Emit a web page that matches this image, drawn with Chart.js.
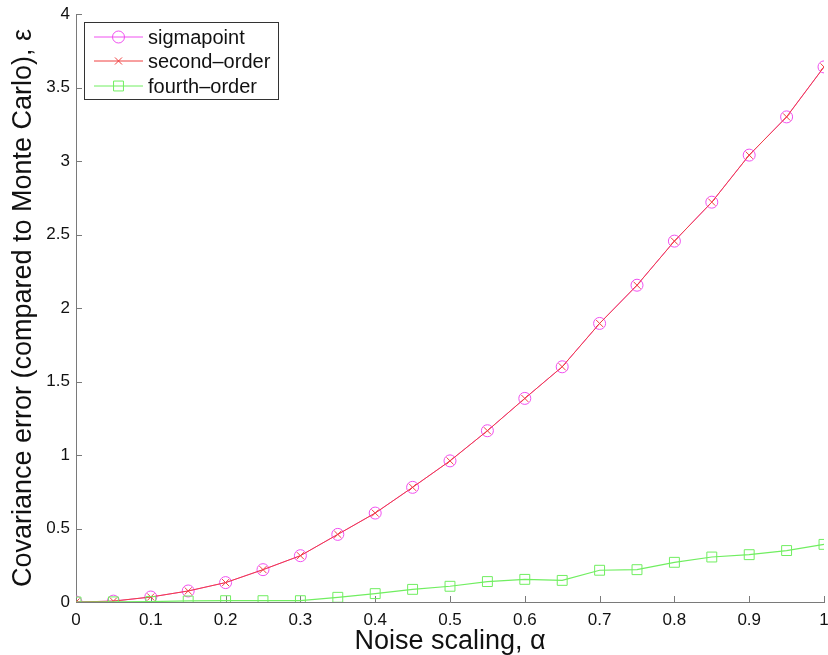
<!DOCTYPE html>
<html>
<head>
<meta charset="utf-8">
<script src="https://cdn.jsdelivr.net/npm/chart.js@4/dist/chart.umd.min.js"></script>
<style>
  html, body { margin: 0; padding: 0; background: #fff; }
  #wrap { width: 828px; height: 655px; }
</style>
</head>
<body>
<div id="wrap"><canvas id="errChart" width="828" height="655"></canvas></div>
<script>
// Data
const alphas = [0, 0.05, 0.1, 0.15, 0.2, 0.25, 0.3, 0.35, 0.4, 0.45, 0.5,
                0.55, 0.6, 0.65, 0.7, 0.75, 0.8, 0.85, 0.9, 0.95, 1];
const sigmapoint = [0, 0.006, 0.034, 0.075, 0.132, 0.22, 0.315, 0.46, 0.605, 0.78, 0.96,
                    1.165, 1.385, 1.60, 1.895, 2.155, 2.455, 2.72, 3.04, 3.30, 3.64];
const secondOrder = [0, 0.006, 0.034, 0.075, 0.132, 0.22, 0.315, 0.46, 0.605, 0.78, 0.96,
                     1.165, 1.385, 1.60, 1.895, 2.155, 2.455, 2.72, 3.04, 3.30, 3.64];
const fourthOrder = [0, 0.001, 0.003, 0.007, 0.009, 0.009, 0.009, 0.032, 0.057, 0.086, 0.107,
                     0.139, 0.154, 0.147, 0.216, 0.22, 0.27, 0.306, 0.322, 0.35, 0.392];
const xTicks = [0, 0.1, 0.2, 0.3, 0.4, 0.5, 0.6, 0.7, 0.8, 0.9, 1];
const yTicks = [0, 0.5, 1, 1.5, 2, 2.5, 3, 3.5, 4];

const FONT = '"Liberation Sans", Arial, Helvetica, sans-serif';
const AXIS_COLOR = '#7a7a7a';

function toPoints(ys) {
  return alphas.map((a, i) => ({x: a, y: ys[i]}));
}

// inward tick marks, like the original plot
const innerTicks = {
  id: 'innerTicks',
  beforeDatasetsDraw(chart) {
    const {ctx, chartArea, scales} = chart;
    ctx.save();
    ctx.strokeStyle = AXIS_COLOR;
    ctx.lineWidth = 1;
    ctx.beginPath();
    xTicks.forEach(v => {
      const px = Math.round(scales.x.getPixelForValue(v)) + 0.5;
      ctx.moveTo(px, chartArea.bottom);
      ctx.lineTo(px, chartArea.bottom - 6);
    });
    yTicks.forEach(v => {
      const py = Math.round(scales.y.getPixelForValue(v)) + 0.5;
      ctx.moveTo(chartArea.left, py);
      ctx.lineTo(chartArea.left + 6, py);
    });
    ctx.stroke();
    ctx.restore();
  }
};

function drawMarker(ctx, style, x, y, r) {
  ctx.beginPath();
  if (style === 'circle') {
    ctx.arc(x, y, r, 0, Math.PI * 2);
  } else if (style === 'crossRot') {
    const d = r * Math.SQRT1_2;
    ctx.moveTo(x - d, y - d); ctx.lineTo(x + d, y + d);
    ctx.moveTo(x - d, y + d); ctx.lineTo(x + d, y - d);
  } else if (style === 'rect') {
    const s = r * Math.SQRT1_2;
    ctx.rect(x - s, y - s, 2 * s, 2 * s);
  }
  ctx.stroke();
}

// legend box in the top-left of the plot
const boxLegend = {
  id: 'boxLegend',
  afterDraw(chart) {
    const {ctx} = chart;
    const left = 84.5, top = 22.5, w = 194, h = 77;
    const rows = [37, 61, 86];
    ctx.save();
    ctx.fillStyle = '#fff';
    ctx.fillRect(left, top, w, h);
    ctx.strokeStyle = '#333';
    ctx.lineWidth = 1;
    ctx.strokeRect(left, top, w, h);
    chart.data.datasets.forEach((ds, i) => {
      const y = rows[i];
      ctx.strokeStyle = ds.borderColor;
      ctx.lineWidth = 1;
      ctx.beginPath();
      ctx.moveTo(94, y);
      ctx.lineTo(143, y);
      ctx.stroke();
      drawMarker(ctx, ds.pointStyle, 118.5, y, ds.pointRadius);
      ctx.fillStyle = '#111';
      ctx.font = '20px ' + FONT;
      ctx.textBaseline = 'middle';
      ctx.textAlign = 'left';
      ctx.fillText(ds.label, 148, y + 1);
    });
    ctx.restore();
  }
};

const ctx = document.getElementById('errChart').getContext('2d');
new Chart(ctx, {
  type: 'line',
  data: {
    datasets: [
      {
        label: 'sigmapoint',
        data: toPoints(sigmapoint),
        borderColor: '#f050f0',
        pointBorderColor: '#f050f0',
        pointBackgroundColor: 'rgba(0,0,0,0)',
        pointStyle: 'circle',
        pointRadius: 6,
        pointBorderWidth: 1,
        borderWidth: 1,
        order: 3
      },
      {
        label: 'second\u2013order',
        data: toPoints(secondOrder),
        borderColor: '#f04040',
        pointBorderColor: '#f04040',
        pointBackgroundColor: 'rgba(0,0,0,0)',
        pointStyle: 'crossRot',
        pointRadius: 5,
        pointBorderWidth: 1,
        borderWidth: 1,
        order: 2
      },
      {
        label: 'fourth\u2013order',
        data: toPoints(fourthOrder),
        borderColor: '#70ee60',
        pointBorderColor: '#70ee60',
        pointBackgroundColor: 'rgba(0,0,0,0)',
        pointStyle: 'rect',
        pointRadius: 7,
        pointBorderWidth: 1,
        borderWidth: 1.2,
        order: 1
      }
    ]
  },
  options: {
    responsive: false,
    animation: false,
    layout: { autoPadding: false, padding: { top: 14, right: 4, left: 0, bottom: 0 } },
    plugins: {
      legend: { display: false },
      tooltip: { enabled: false }
    },
    elements: { line: { tension: 0 } },
    scales: {
      x: {
        type: 'linear',
        min: 0,
        max: 1,
        afterBuildTicks(scale) { scale.ticks = xTicks.map(v => ({value: v})); },
        afterFit(scale) {
          scale.height = 53;
          scale.paddingLeft = 0;
          scale.paddingRight = 0;
        },
        grid: { display: false, drawTicks: false },
        border: { display: true, color: AXIS_COLOR, width: 1 },
        ticks: {
          color: '#111',
          padding: 8,
          maxRotation: 0,
          font: { family: FONT, size: 17 },
          callback: v => String(Math.round(v * 10) / 10)
        },
        title: {
          display: true,
          text: 'Noise scaling, \u03b1',
          color: '#111',
          font: { family: FONT, size: 27, lineHeight: 1.0 },
          padding: { top: 0, bottom: 0 }
        }
      },
      y: {
        type: 'linear',
        min: 0,
        max: 4,
        afterBuildTicks(scale) { scale.ticks = yTicks.map(v => ({value: v})); },
        afterFit(scale) {
          scale.width = 76;
          scale.paddingTop = 0;
          scale.paddingBottom = 0;
        },
        grid: { display: false, drawTicks: false },
        border: { display: true, color: AXIS_COLOR, width: 1 },
        ticks: {
          color: '#111',
          padding: 6,
          font: { family: FONT, size: 17 },
          callback: v => String(v)
        },
        title: {
          display: true,
          text: 'Covariance error (compared to Monte Carlo), \u03b5',
          color: '#111',
          font: { family: FONT, size: 27 },
          padding: { top: 7, bottom: 0 }
        }
      }
    }
  },
  plugins: [innerTicks, boxLegend]
});
</script>
</body>
</html>
